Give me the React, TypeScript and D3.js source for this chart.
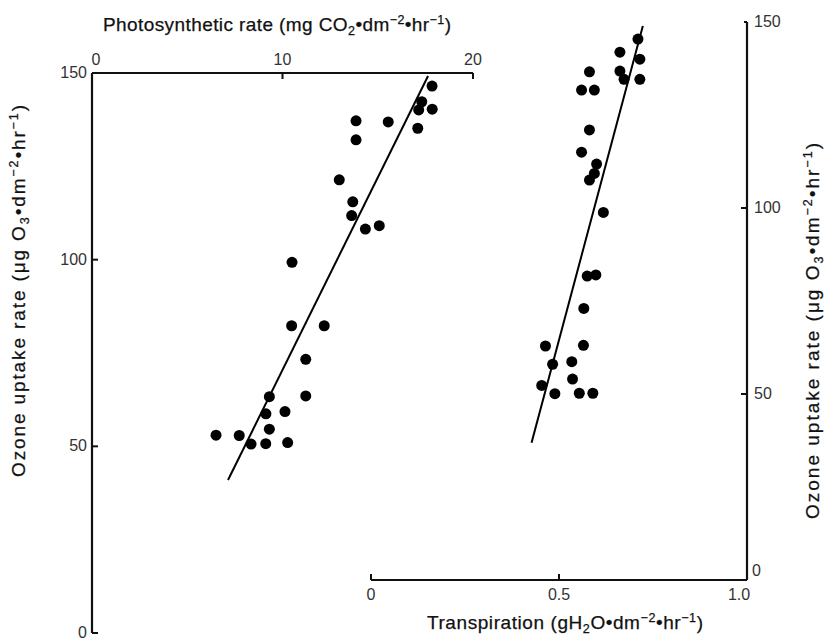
import React from "react";
import * as d3 from "d3";

// Photosynthetic rate (mg CO2) vs ozone uptake (left chart)
const photoRate = [6.51, 7.73, 8.35, 9.12, 10.27, 9.31, 9.13, 10.13, 9.31, 11.22, 11.22, 10.48, 12.19, 10.5, 12.98, 13.69, 13.63, 14.35, 15.08, 13.86, 13.86, 15.55, 17.15, 17.86, 17.1, 17.31, 17.85];
const photoOzone = [53.0, 52.9, 50.6, 50.7, 51.0, 54.6, 58.7, 59.3, 63.3, 63.5, 73.3, 82.3, 82.3, 99.3, 121.4, 115.5, 111.8, 108.2, 109.1, 137.2, 132.1, 136.9, 140.1, 140.3, 135.2, 142.3, 146.5];
const photoFitX = [7.14, 17.64];
const photoFitY = [41.0, 149.2];

// Transpiration vs ozone uptake (right chart)
const transRate = [0.71, 0.662, 0.715, 0.662, 0.673, 0.715, 0.581, 0.56, 0.594, 0.581, 0.56, 0.6, 0.594, 0.581, 0.618, 0.575, 0.598, 0.566, 0.464, 0.565, 0.483, 0.534, 0.454, 0.536, 0.489, 0.554, 0.59];
const transOzone = [145.4, 141.9, 140.0, 136.8, 134.6, 134.6, 136.6, 131.7, 131.7, 121.0, 115.0, 111.8, 109.3, 107.5, 98.8, 81.7, 82.0, 73.0, 62.9, 63.1, 58.0, 58.7, 52.3, 54.0, 50.1, 50.2, 50.2];
const transFitX = [0.427, 0.723];
const transFitY = [36.9, 148.9];

const topTicks = [0, 10, 20];
const leftTicks = [0, 50, 100, 150];
const bottomTicks = [0, 0.5, 1.0];
const bottomTickLabels = ["0", "0.5", "1.0"];
const rightTicks = [0, 50, 100, 150];

type Seg = { t: string; s?: "sub" | "sup" };

const titleTop: Seg[] = [
  { t: "Photosynthetic rate (mg CO" }, { t: "2", s: "sub" }, { t: "\u2022dm" }, { t: "\u22122", s: "sup" }, { t: "\u2022hr" }, { t: "\u22121", s: "sup" }, { t: ")" },
];
const titleOzone: Seg[] = [
  { t: "Ozone uptake rate (\u03bcg O" }, { t: "3", s: "sub" }, { t: "\u2022dm" }, { t: "\u22122", s: "sup" }, { t: "\u2022hr" }, { t: "\u22121", s: "sup" }, { t: ")" },
];
const titleBottom: Seg[] = [
  { t: "Transpiration (gH" }, { t: "2", s: "sub" }, { t: "O\u2022dm" }, { t: "\u22122", s: "sup" }, { t: "\u2022hr" }, { t: "\u22121", s: "sup" }, { t: ")" },
];

const FONT = "'Liberation Sans', Arial, Helvetica, sans-serif";

function Rich({ segs, x, y, fs, len, transform }: { segs: Seg[]; x: number; y: number; fs: number; len: number; transform?: string }) {
  let cur = 0;
  const parts = segs.map((s, i) => {
    const target = s.s === "sup" ? -fs * 0.38 : s.s === "sub" ? fs * 0.22 : 0;
    const dy = target - cur;
    cur = target;
    return (
      <tspan key={i} dy={dy} fontSize={s.s ? fs * 0.66 : fs}>
        {s.t}
      </tspan>
    );
  });
  return (
    <text x={x} y={y} textAnchor="middle" fontSize={fs} fontFamily={FONT} fill="#111" stroke="#111" strokeWidth={0.25} transform={transform} textLength={len} lengthAdjust="spacing">
      {parts}
    </text>
  );
}

export default function App() {
  const xTop = d3.scaleLinear().domain([0, 20]).range([92, 473]);
  const yLeft = d3.scaleLinear().domain([0, 150]).range([633, 73]);
  const xBot = d3.scaleLinear().domain([0, 1]).range([371, 747]);
  const yRight = d3.scaleLinear().domain([0, 150]).range([580, 22]);

  const line = d3.line<[number, number]>();
  const leftFit = line(photoFitX.map((v, i) => [xTop(v), yLeft(photoFitY[i])] as [number, number]));
  const rightFit = line(transFitX.map((v, i) => [xBot(v), yRight(transFitY[i])] as [number, number]));

  const tl = 6;
  const axisStroke = "#111";
  const lblFs = 16;

  return (
    <svg width={827} height={640} style={{ position: "absolute", left: 0, top: 0, display: "block", background: "#fff" }}>
      {/* Top axis */}
      <line x1={xTop(0)} x2={xTop(20)} y1={yLeft(150)} y2={yLeft(150)} stroke={axisStroke} strokeWidth={2.2} />
      {topTicks.map((t) => (
        <g key={"tt" + t}>
          {t !== 0 && <line x1={xTop(t)} x2={xTop(t)} y1={yLeft(150)} y2={yLeft(150) + tl} stroke={axisStroke} strokeWidth={2} />}
          <text x={xTop(t) + (t === 0 ? 4 : 0)} y={yLeft(150) - 8} textAnchor="middle" fontSize={lblFs} fontFamily={FONT} fill="#333">
            {t}
          </text>
        </g>
      ))}
      {/* Left axis */}
      <line x1={xTop(0)} x2={xTop(0)} y1={yLeft(150)} y2={yLeft(0)} stroke={axisStroke} strokeWidth={2.2} />
      {leftTicks.map((t) => (
        <g key={"lt" + t}>
          {t !== 150 && <line x1={xTop(0)} x2={xTop(0) + tl} y1={yLeft(t)} y2={yLeft(t)} stroke={axisStroke} strokeWidth={2} />}
          <text x={xTop(0) - 5} y={yLeft(t) + 5} textAnchor="end" fontSize={lblFs} fontFamily={FONT} fill="#333">
            {t}
          </text>
        </g>
      ))}
      {/* Bottom axis */}
      <line x1={xBot(0)} x2={xBot(1)} y1={yRight(0)} y2={yRight(0)} stroke={axisStroke} strokeWidth={2.2} />
      {bottomTicks.map((t, i) => (
        <g key={"bt" + t}>
          {t !== 1 && <line x1={xBot(t)} x2={xBot(t)} y1={yRight(0)} y2={yRight(0) - tl} stroke={axisStroke} strokeWidth={2} />}
          <text x={xBot(t) - (t === 1 ? 8 : 0)} y={yRight(0) + 20} textAnchor="middle" fontSize={lblFs} fontFamily={FONT} fill="#333">
            {bottomTickLabels[i]}
          </text>
        </g>
      ))}
      {/* Right axis */}
      <line x1={xBot(1)} x2={xBot(1)} y1={yRight(0)} y2={yRight(150)} stroke={axisStroke} strokeWidth={2.2} />
      {rightTicks.map((t) => (
        <g key={"rt" + t}>
          {t !== 0 && <line x1={xBot(1)} x2={xBot(1) - (t === 150 ? 3 : tl)} y1={yRight(t)} y2={yRight(t)} stroke={axisStroke} strokeWidth={2} />}
          <text x={xBot(1) + (t === 0 ? 5 : 7)} y={yRight(t) + (t === 0 ? -4 : 5)} textAnchor="start" fontSize={lblFs} fontFamily={FONT} fill="#333">
            {t}
          </text>
        </g>
      ))}

      {/* Fit lines */}
      <path d={leftFit ?? ""} stroke="#000" strokeWidth={2} fill="none" />
      <path d={rightFit ?? ""} stroke="#000" strokeWidth={2} fill="none" />

      {/* Points */}
      {photoRate.map((v, i) => (
        <circle key={"p" + i} cx={xTop(v)} cy={yLeft(photoOzone[i])} r={5.5} fill="#000" />
      ))}
      {transRate.map((v, i) => (
        <circle key={"q" + i} cx={xBot(v)} cy={yRight(transOzone[i])} r={5.5} fill="#000" />
      ))}

      {/* Titles */}
      <Rich segs={titleTop} x={277} y={31} fs={19} len={348} />
      <Rich segs={titleOzone} x={0} y={0} fs={19} len={372} transform={`translate(25,291) rotate(-90)`} />
      <Rich segs={titleOzone} x={0} y={0} fs={19} len={376} transform={`translate(819,331) rotate(-90)`} />
      <Rich segs={titleBottom} x={565} y={629} fs={19} len={276} />
    </svg>
  );
}
